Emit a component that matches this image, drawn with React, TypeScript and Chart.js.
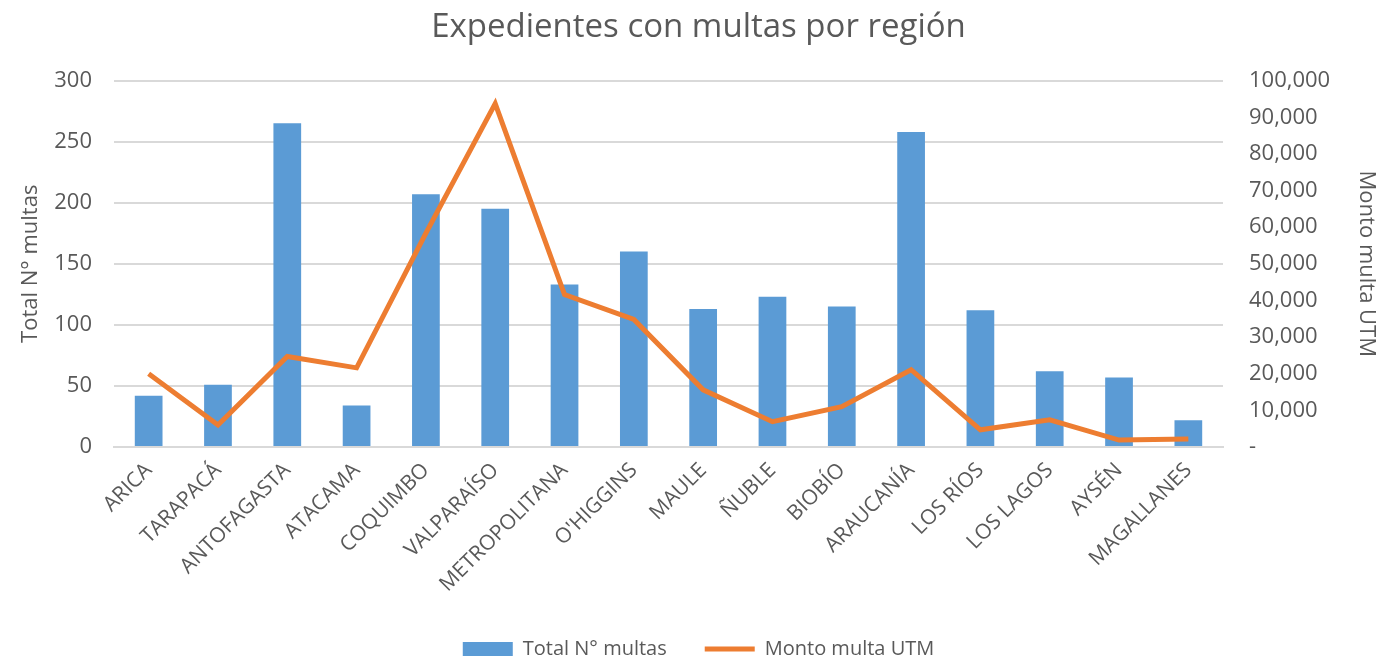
import React, { useEffect, useRef } from "react";
import { Chart, registerables } from "chart.js";

Chart.register(...registerables);

const regions = [
  "ARICA", "TARAPACÁ", "ANTOFAGASTA", "ATACAMA", "COQUIMBO", "VALPARAÍSO",
  "METROPOLITANA", "O'HIGGINS", "MAULE", "ÑUBLE", "BIOBÍO", "ARAUCANÍA",
  "LOS RÍOS", "LOS LAGOS", "AYSÉN", "MAGALLANES",
];
const totalMultas = [42, 51, 265, 34, 207, 195, 133, 160, 113, 123, 115, 258, 112, 62, 57, 22];
const montoUTM = [20000, 6000, 24700, 21600, 58400, 93700, 41600, 34800, 15600, 6900, 11000, 21100, 4700, 7400, 1900, 2200];

const TEXT = "#595959";
const GRID = "#d9d9d9";
const FONT = "'Open Sans', sans-serif";

export default function App() {
  const ref = useRef<HTMLCanvasElement | null>(null);
  useEffect(() => {
    if (!ref.current) return;
    const chart = new Chart(ref.current, {
      type: "bar",
      data: {
        labels: regions,
        datasets: [
          {
            type: "line",
            label: "Monto multa UTM",
            data: montoUTM,
            yAxisID: "y1",
            borderColor: "#ED7D31",
            backgroundColor: "#ED7D31",
            borderWidth: 5,
            pointRadius: 0,
            tension: 0,
            order: 0,
          } as any,
          {
            type: "bar",
            label: "Total N° multas",
            data: totalMultas,
            yAxisID: "y",
            backgroundColor: "#5B9BD5",
            categoryPercentage: 1,
            barPercentage: 0.4,
            order: 1,
          },
        ],
      },
      options: {
        animation: false,
        responsive: true,
        maintainAspectRatio: false,
        layout: { padding: { left: 18, right: 10, bottom: -9 } },
        plugins: {
          title: {
            display: true,
            text: "Expedientes con multas por región",
            color: TEXT,
            font: { family: FONT, size: 33, weight: "normal" },
            padding: { top: 8, bottom: 33 },
          },
          legend: {
            position: "bottom",
            labels: {
              color: TEXT,
              font: { family: FONT, size: 20 },
              usePointStyle: true,
              pointStyleWidth: 50,
              boxHeight: 14,
              padding: 38,
              generateLabels: (c: any) => {
                const ds = c.data.datasets;
                return [
                  { text: ds[1].label, fillStyle: "#5B9BD5", strokeStyle: "#5B9BD5", lineWidth: 0, pointStyle: "rect", datasetIndex: 1, fontColor: TEXT },
                  { text: ds[0].label, fillStyle: "#ED7D31", strokeStyle: "#ED7D31", lineWidth: 5, pointStyle: "line", datasetIndex: 0, fontColor: TEXT },
                ];
              },
            },
          },
          tooltip: { enabled: false },
        },
        scales: {
          x: {
            grid: { display: false },
            border: { display: true, color: GRID, width: 2 },
            ticks: {
              color: TEXT,
              font: { family: FONT, size: 21 },
              maxRotation: 45,
              minRotation: 45,
              padding: 3,
            },
            afterFit: (s: any) => { s.height = 154; },
          },
          y: {
            position: "left",
            min: 0,
            max: 300,
            ticks: { stepSize: 50, color: TEXT, font: { family: FONT, size: 22 }, padding: 22 },
            grid: { color: GRID, lineWidth: 2, drawTicks: false },
            border: { display: false },
            title: { display: true, text: "Total N° multas", color: TEXT, font: { family: FONT, size: 22 }, padding: 0 },
            afterFit: (s: any) => { s.width = 96; },
          },
          y1: {
            position: "right",
            min: 0,
            max: 100000,
            ticks: {
              stepSize: 10000,
              color: TEXT,
              font: { family: FONT, size: 22 },
              padding: 26,
              callback: (v: any) => (Number(v) === 0 ? "-" : Number(v).toLocaleString("en-US")),
            },
            grid: { display: false, drawTicks: false },
            border: { display: false },
            title: { display: true, text: "Monto multa UTM", color: TEXT, font: { family: FONT, size: 22 }, padding: 0 },
            afterFit: (s: any) => { s.width = 156; },
          },
        },
      },
    });
    return () => chart.destroy();
  }, []);
  return (
    <div style={{ position: "fixed", left: 0, top: 0, width: 1389, height: 660, background: "#fff" }}>
      <canvas ref={ref} />
    </div>
  );
}
